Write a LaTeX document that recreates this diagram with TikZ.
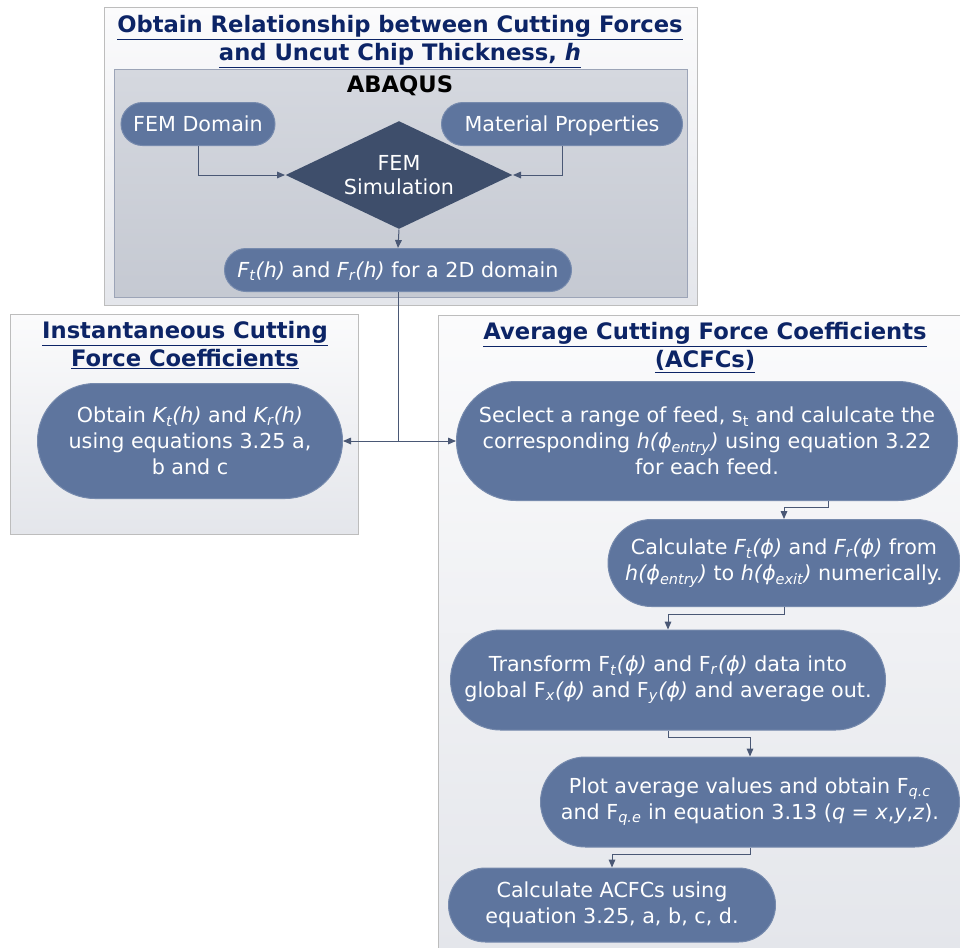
\documentclass[tikz,border=0pt]{standalone}
\usepackage{fontspec}
\setmainfont{DejaVu Sans}
\usetikzlibrary{arrows.meta, positioning, shapes.geometric, shapes.misc, calc}
\definecolor{cpill}{HTML}{5E759E}
\definecolor{cdiam}{HTML}{3E4E6B}
\definecolor{ctitle}{HTML}{0C2466}
\definecolor{cline}{HTML}{4A5875}
\definecolor{cframe}{HTML}{BDBDBD}
\definecolor{cinner}{HTML}{9CA4B7}
\definecolor{cpaneltop}{HTML}{FBFBFC}
\definecolor{cpanelbot}{HTML}{E4E6EB}
\definecolor{cabqtop}{HTML}{D5D8DF}
\definecolor{cabqbot}{HTML}{C5C9D2}
\newlength\px
\setlength\px{0.75pt}
\newcommand{\sbs}[1]{\textsubscript{#1}}
\newcommand{\ph}{ϕ}
\tikzset{
  every picture/.style={x=0.75pt, y=-0.75pt, line width=0.75pt},
  panel/.style={draw=cframe, top color=cpaneltop, bottom color=cpanelbot},
  pill/.style={rounded rectangle, draw=cpill!85!white, fill=cpill, text=white, align=center, inner sep=0pt,
    font=\fontsize{15.5}{19.5}\selectfont},
  oneline/.style={text height=14pt, text depth=3pt},
  arrow/.style={-{Triangle[length=6pt, width=5pt]}, draw=cline},
  title/.style={font=\fontsize{17}{21}\selectfont\bfseries, text=ctitle, align=center},
}
\begin{document}
\begin{tikzpicture}
  \useasboundingbox (0,0) rectangle (960,947);
  % panels
  \draw[panel] (104,7) rectangle (697,305);
  \draw[draw=cinner, top color=cabqtop, bottom color=cabqbot] (114,69) rectangle (687,297);
  \draw[panel] (10,314) rectangle (358,534);
  \draw[panel] (438,315) rectangle (962,950);
  % titles
  \node[title] (t1) at (400,42) {\underline{Obtain Relationship between Cutting Forces}\\\underline{and Uncut Chip Thickness, \textit{h}}};
  \node[font=\fontsize{17}{18}\selectfont\bfseries] (abq) at (400,86) {ABAQUS};
  \node[title] (t2) at (185,345) {\underline{Instantaneous Cutting}\\\underline{Force Coefficients}};
  \node[title] (t3) at (705,348) {\underline{Average Cutting Force Coefficients}\\\underline{(ACFCs)}};
  % FEM part
  \node[pill, oneline, minimum width=154\px, minimum height=43\px] (dom) at (198,124) {FEM Domain};
  \node[pill, oneline, minimum width=241\px, minimum height=43\px] (mat) at (562,124) {Material Properties};
  \node[diamond, fill=cdiam, inner sep=0pt, minimum width=227\px, minimum height=108\px] (sim) at (399,175) {};
  \node[text=white, align=center, font=\fontsize{15.5}{18}\selectfont] (simtxt) at (sim.center) {FEM\\Simulation};
  \node[pill, oneline, minimum width=347\px, minimum height=43\px] (ft) at (398,270)
    {\textit{F\sbs{t}(h)} and \textit{F\sbs{r}(h)} for a 2D domain};
  \draw[arrow] (dom.south) |- (sim.west);
  \draw[arrow] (mat.south) |- (sim.east);
  \draw[arrow] (sim.south) -- (ft.north);
  % instantaneous
  \node[pill, minimum width=305\px, minimum height=115\px] (kt) at (190,441)
    {Obtain \textit{K\sbs{t}(h)} and \textit{K\sbs{r}(h)}\\using equations 3.25 a,\\b and c};
  % average
  \node[pill, minimum width=501\px, minimum height=119\px] (s1) at (707,441)
    {Seclect a range of feed, s\sbs{t} and calulcate the\\corresponding \textit{h(\ph\sbs{entry})} using equation 3.22\\for each feed.};
  \node[pill, minimum width=352\px, minimum height=87\px] (s2) at (784,563)
    {Calculate \textit{F\sbs{t}(\ph)} and \textit{F\sbs{r}(\ph)} from\\\textit{h(\ph\sbs{entry})} to \textit{h(\ph\sbs{exit})} numerically.};
  \node[pill, minimum width=435\px, minimum height=100\px] (s3) at (668,680)
    {Transform F\sbs{\textit{t}}\textit{(\ph)} and F\sbs{\textit{r}}\textit{(\ph)} data into\\global F\sbs{\textit{x}}\textit{(\ph)} and F\sbs{\textit{y}}\textit{(\ph)} and average out.};
  \node[pill, minimum width=419\px, minimum height=90\px] (s4) at (750,802)
    {Plot average values and obtain F\sbs{\textit{q.c}}\\and F\sbs{\textit{q.e}} in equation 3.13 (\textit{q} = \textit{x},\textit{y},\textit{z}).};
  \node[pill, minimum width=327\px, minimum height=74\px] (s5) at (612,905)
    {Calculate ACFCs using\\equation 3.25, a, b, c, d.};
  % connectors
  \draw[arrow] (ft.south) |- (kt.east);
  \draw[arrow] (ft.south) |- (s1.west);
  \draw[arrow] ([xshift=121\px]s1.south) -- ++(0,6) -| (s2.north);
  \draw[arrow] (s2.south) -- ++(0,7) -| (s3.north);
  \draw[arrow] (s3.south) -- ++(0,7) -| (s4.north);
  \draw[arrow] (s4.south) -- ++(0,7) -| (s5.north);
\end{tikzpicture}
\end{document}
